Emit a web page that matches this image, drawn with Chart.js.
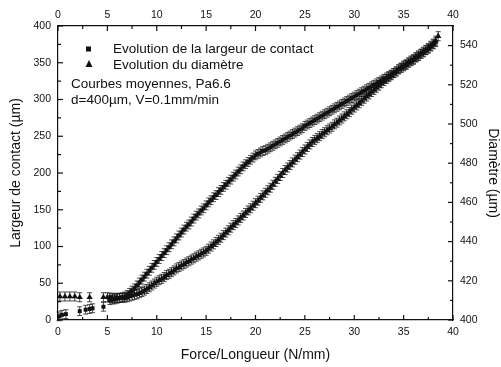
<!DOCTYPE html>
<html>
<head>
<meta charset="utf-8">
<script src="https://cdn.jsdelivr.net/npm/chart.js@4/dist/chart.umd.min.js"></script>
<style>
  html, body { margin: 0; padding: 0; background: #fff; }
  canvas { display: block; }
</style>
</head>
<body>
<canvas id="graph" width="501" height="367"></canvas>
<script>
// Largeur de contact (axe gauche, µm)
const forceLargeur = [0.1, 0.4, 0.8, 2.2, 2.8, 3.2, 3.5, 4.6,
  5.25, 5.5, 5.75, 6, 6.25, 6.5, 6.75, 7, 7.25, 7.5,
  7.75, 8, 8.25, 8.5, 8.75, 9, 9.25, 9.5, 9.75, 10,
  10.25, 10.5, 10.75, 11, 11.25, 11.5, 11.75, 12, 12.25, 12.5,
  12.75, 13, 13.25, 13.5, 13.75, 14, 14.25, 14.5, 14.75, 15,
  15.25, 15.5, 15.75, 16, 16.25, 16.5, 16.75, 17, 17.25, 17.5,
  17.75, 18, 18.25, 18.5, 18.75, 19, 19.25, 19.5, 19.75, 20,
  20.25, 20.5, 20.75, 21, 21.25, 21.5, 21.75, 22, 22.25, 22.5,
  22.75, 23, 23.25, 23.5, 23.75, 24, 24.25, 24.5, 24.75, 25,
  25.25, 25.5, 25.75, 26, 26.25, 26.5, 26.75, 27, 27.25, 27.5,
  27.75, 28, 28.25, 28.5, 28.75, 29, 29.25, 29.5, 29.75, 30,
  30.25, 30.5, 30.75, 31, 31.25, 31.5, 31.75, 32, 32.25, 32.5,
  32.75, 33, 33.25, 33.5, 33.75, 34, 34.25, 34.5, 34.75, 35,
  35.25, 35.5, 35.75, 36, 36.25, 36.5, 36.75, 37, 37.25, 37.5,
  37.75, 38, 38.25];
const largeur = [5, 7, 8, 12, 14, 15, 16, 18,
  27, 28, 28, 29, 30, 31, 32, 34, 37, 40,
  43, 47, 51, 55, 59, 63, 67, 71, 75, 79,
  83, 87, 91, 95, 99, 103, 107, 111, 115, 119,
  123, 127, 130, 134, 138, 142, 145, 149, 152, 156,
  160, 163, 167, 170, 174, 177, 181, 184, 188, 191,
  195, 198, 202, 205, 209, 212, 215, 218, 221, 224,
  226, 228, 230, 231, 233, 235, 237, 239, 241, 243,
  245, 247, 249, 251, 253, 255, 257, 259, 261, 264,
  266, 268, 270, 272, 274, 276, 278, 280, 282, 284,
  286, 288, 290, 292, 294, 296, 298, 300, 302, 304,
  306, 308, 310, 312, 314, 316, 318, 320, 322, 324,
  326, 328, 330, 332, 334, 336, 338, 341, 343, 345,
  347, 350, 352, 354, 357, 359, 362, 364, 367, 369,
  372, 375, 378];

// Diamètre (axe droit, µm)
const forceDiametre = [0.2, 0.7, 1.2, 1.7, 2.2, 3.2, 4.6,
  5, 5.25, 5.5, 5.75, 6, 6.25, 6.5, 6.75, 7, 7.25, 7.5,
  7.75, 8, 8.25, 8.5, 8.75, 9, 9.25, 9.5, 9.75, 10,
  10.25, 10.5, 10.75, 11, 11.25, 11.5, 11.75, 12, 12.25, 12.5,
  12.75, 13, 13.25, 13.5, 13.75, 14, 14.25, 14.5, 14.75, 15,
  15.25, 15.5, 15.75, 16, 16.25, 16.5, 16.75, 17, 17.25, 17.5,
  17.75, 18, 18.25, 18.5, 18.75, 19, 19.25, 19.5, 19.75, 20,
  20.25, 20.5, 20.75, 21, 21.25, 21.5, 21.75, 22, 22.25, 22.5,
  22.75, 23, 23.25, 23.5, 23.75, 24, 24.25, 24.5, 24.75, 25,
  25.25, 25.5, 25.75, 26, 26.25, 26.5, 26.75, 27, 27.25, 27.5,
  27.75, 28, 28.25, 28.5, 28.75, 29, 29.25, 29.5, 29.75, 30,
  30.25, 30.5, 30.75, 31, 31.25, 31.5, 31.75, 32, 32.25, 32.5,
  32.75, 33, 33.25, 33.5, 33.75, 34, 34.25, 34.5, 34.75, 35,
  35.25, 35.5, 35.75, 36, 36.25, 36.5, 36.75, 37, 37.25, 37.5,
  37.75, 38, 38.25, 38.5];
const diametre = [412, 412, 412, 412, 411.6, 411.6, 411.6,
  411.6, 411.4, 411.3, 411.3, 411.3, 411.3, 411.3, 411.4, 411.6, 412.0, 412.4,
  412.8, 413.1, 413.7, 414.3, 415.0, 415.8, 416.7, 417.6, 418.6, 419.5,
  420.3, 421.0, 421.9, 422.9, 423.6, 424.4, 425.3, 426.3, 427.0, 427.8,
  428.5, 429.3, 430.0, 430.8, 431.5, 432.3, 433.0, 433.8, 434.5, 435.3,
  436.4, 437.5, 438.6, 439.8, 440.9, 442.0, 443.3, 444.6, 445.8, 447.1,
  448.4, 449.5, 450.8, 452.1, 453.3, 454.6, 455.9, 457.0, 458.3, 459.6,
  460.9, 462.3, 463.6, 464.9, 466.2, 467.5, 469.0, 470.5, 472.0, 473.5,
  475.0, 476.5, 477.8, 479.1, 480.4, 481.8, 483.1, 484.4, 485.7, 487.0,
  488.3, 489.6, 490.8, 491.9, 492.8, 493.8, 494.9, 495.8, 496.8, 497.7,
  498.6, 499.8, 500.7, 501.8, 502.8, 503.9, 505.0, 506.1, 507.3, 508.4,
  509.5, 510.6, 511.8, 512.9, 514.0, 515.1, 516.3, 517.4, 518.5, 519.6,
  520.8, 521.9, 523.0, 523.9, 524.9, 526.0, 526.9, 527.9, 528.8, 529.8,
  530.5, 531.4, 532.4, 533.1, 534.1, 535.0, 535.9, 536.9, 537.8, 538.8,
  539.9, 541.0, 542.5, 544.8];

// demi-largeur des barres d'erreur
const errLargeur = 6;
const errDiametre = 2.3;

// graduations
const ticksX = [0, 5, 10, 15, 20, 25, 30, 35, 40];
const ticksLargeur = [0, 50, 100, 150, 200, 250, 300, 350, 400];
const ticksDiametre = [400, 420, 440, 460, 480, 500, 520, 540];

const police = '"Liberation Sans", Arial, sans-serif';
const noir = '#111';

const zip = (xs, ys) => xs.map((x, i) => ({ x: x, y: ys[i] }));
const fixTicks = (vals) => (scale) => { scale.ticks = vals.map(v => ({ value: v })); };

//---------------------------------------------------------------------
// barres d'erreur sous les marqueurs
//---------------------------------------------------------------------
const barresErreur = {
  id: 'barresErreur',
  beforeDatasetsDraw(chart) {
    const ctx = chart.ctx;
    ctx.save();
    ctx.strokeStyle = 'rgba(30,30,30,0.8)';
    ctx.lineWidth = 1;
    chart.data.datasets.forEach((ds, i) => {
      const meta = chart.getDatasetMeta(i);
      const sc = chart.scales[ds.yAxisID];
      meta.data.forEach((pt, j) => {
        const v = ds.data[j].y;
        const yh = sc.getPixelForValue(v + ds.err);
        const yb = sc.getPixelForValue(v - ds.err);
        ctx.beginPath();
        ctx.moveTo(pt.x, yh); ctx.lineTo(pt.x, yb);
        ctx.moveTo(pt.x - 2.5, yh); ctx.lineTo(pt.x + 2.5, yh);
        ctx.moveTo(pt.x - 2.5, yb); ctx.lineTo(pt.x + 2.5, yb);
        ctx.stroke();
      });
    });
    ctx.restore();
  }
};

//---------------------------------------------------------------------
// graduations vers l'intérieur + légende
//---------------------------------------------------------------------
const cadre = {
  id: 'cadre',
  afterDraw(chart) {
    const ctx = chart.ctx;
    const a = chart.chartArea;
    ctx.save();
    ctx.strokeStyle = noir;
    ctx.lineWidth = 1.2;

    const marques = (scale, vals, horiz, base, dir) => {
      for (let k = 0; k < vals.length; k++) {
        const p = scale.getPixelForValue(vals[k]);
        ctx.beginPath();
        if (horiz) { ctx.moveTo(p, base); ctx.lineTo(p, base + dir * 5); }
        else { ctx.moveTo(base, p); ctx.lineTo(base + dir * 5, p); }
        ctx.stroke();
        if (k < vals.length - 1) {
          const m = scale.getPixelForValue((vals[k] + vals[k + 1]) / 2);
          ctx.beginPath();
          if (horiz) { ctx.moveTo(m, base); ctx.lineTo(m, base + dir * 3); }
          else { ctx.moveTo(base, m); ctx.lineTo(base + dir * 3, m); }
          ctx.stroke();
        }
      }
    };
    marques(chart.scales.x, ticksX, true, a.bottom, -1);
    marques(chart.scales.x2, ticksX, true, a.top, 1);
    marques(chart.scales.y, ticksLargeur, false, a.left, 1);
    marques(chart.scales.y2, ticksDiametre, false, a.right, -1);

    // légende
    ctx.fillStyle = noir;
    ctx.fillRect(86, 46.5, 5, 5);
    ctx.beginPath();
    ctx.moveTo(89, 60); ctx.lineTo(92.5, 67); ctx.lineTo(85.5, 67);
    ctx.closePath(); ctx.fill();

    ctx.font = '13.5px ' + police;
    ctx.textBaseline = 'middle';
    ctx.textAlign = 'left';
    ctx.fillText(chart.data.datasets[0].label, 113, 49);
    ctx.fillText(chart.data.datasets[1].label, 113, 65);
    ctx.fillText('Courbes moyennes, Pa6.6', 71, 84);
    ctx.fillText('d=400µm, V=0.1mm/min', 71, 100);
    ctx.restore();
  }
};

const axeCommun = {
  type: 'linear',
  grid: { display: false, drawTicks: false },
  border: { display: true, color: noir, width: 1.2 },
  ticks: { color: noir, font: { family: police, size: 10.5 } }
};

new Chart(document.getElementById('graph'), {
  type: 'scatter',
  data: {
    datasets: [
      {
        label: 'Evolution de la largeur de contact',
        data: zip(forceLargeur, largeur),
        err: errLargeur,
        yAxisID: 'y',
        pointStyle: 'rect',
        pointRadius: 2.8,
        backgroundColor: noir,
        borderColor: noir,
        borderWidth: 0
      },
      {
        label: 'Evolution du diamètre',
        data: zip(forceDiametre, diametre),
        err: errDiametre,
        yAxisID: 'y2',
        pointStyle: 'triangle',
        pointRadius: 3.6,
        backgroundColor: noir,
        borderColor: noir,
        borderWidth: 0
      }
    ]
  },
  options: {
    responsive: false,
    animation: false,
    layout: { padding: 0 },
    plugins: { legend: { display: false }, tooltip: { enabled: false } },
    scales: {
      x: {
        ...axeCommun, position: 'bottom', min: 0, max: 40,
        afterBuildTicks: fixTicks(ticksX),
        afterFit: s => { s.height = 47; },
        ticks: { ...axeCommun.ticks, padding: 6, maxRotation: 0 },
        title: { display: true, text: 'Force/Longueur (N/mm)', color: noir,
          font: { family: police, size: 14 }, padding: { top: 3, bottom: 3 } }
      },
      x2: {
        ...axeCommun, position: 'top', min: 0, max: 40,
        afterBuildTicks: fixTicks(ticksX),
        afterFit: s => { s.height = 26; },
        ticks: { ...axeCommun.ticks, padding: 5, maxRotation: 0 }
      },
      y: {
        ...axeCommun, position: 'left', min: 0, max: 400,
        afterBuildTicks: fixTicks(ticksLargeur),
        afterFit: s => { s.width = 58; },
        ticks: { ...axeCommun.ticks, padding: 7 },
        title: { display: true, text: 'Largeur de contact (µm)', color: noir,
          font: { family: police, size: 14 }, padding: { top: 8, bottom: 0 } }
      },
      y2: {
        ...axeCommun, position: 'right', min: 400, max: 550,
        afterBuildTicks: fixTicks(ticksDiametre),
        afterFit: s => { s.width = 48; },
        ticks: { ...axeCommun.ticks, padding: 7 },
        title: { display: true, text: 'Diamètre (µm)', color: noir,
          font: { family: police, size: 14 }, padding: { top: 0, bottom: 0 } }
      }
    }
  },
  plugins: [barresErreur, cadre]
});
</script>
</body>
</html>
